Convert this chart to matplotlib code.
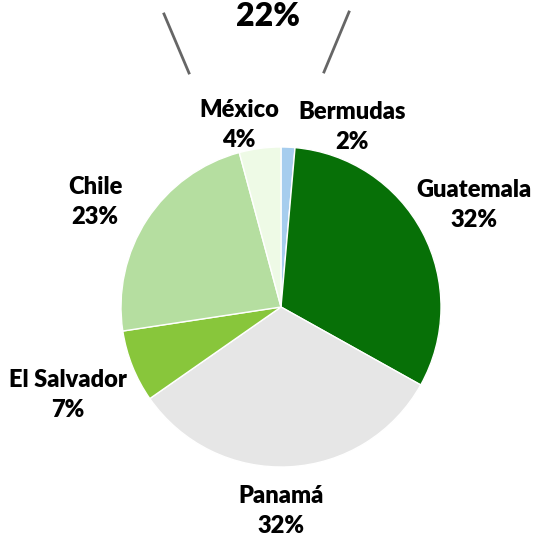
import matplotlib
matplotlib.use("Agg")
import matplotlib.pyplot as plt

# shares of each country, clockwise from the top
countries = ["Bermudas", "Guatemala", "Panamá", "El Salvador", "Chile", "México"]
shares = [1.4, 31.7, 32.2, 7.3, 23.2, 4.2]
share_labels = ["2%", "32%", "32%", "7%", "23%", "4%"]
colors = ["#a6cdee", "#077007", "#e6e6e6", "#88c63b", "#b5dea0", "#eefae6"]

# label centres in pixel coords (x, y from the top)
label_pos = [(352, 127), (474, 205), (281, 511), (68, 395), (95, 202), (239, 125)]

W, H = 534, 542
plt.rcParams["font.family"] = ["Lato", "DejaVu Sans"]

fig = plt.figure(figsize=(W / 100, H / 100), dpi=100)
ax = fig.add_axes([0, 0, 1, 1])

ax.pie(shares, colors=colors, startangle=90, counterclock=False,
       center=(281, H - 307), radius=160,
       wedgeprops={"edgecolor": "white", "linewidth": 1})
# pie resets the limits, so set them afterwards
ax.set_xlim(0, W)
ax.set_ylim(0, H)
ax.set_aspect("equal")
ax.axis("off")

for name, pct, (x, y) in zip(countries, share_labels, label_pos):
    ax.text(x, H - y, name + "\n" + pct, ha="center", va="center",
            fontsize=17, fontweight="heavy", linespacing=1.45)

# piece of the neighbouring chart cut off at the top
ax.text(268, H - 16, "22%", ha="center", va="center", fontsize=23, fontweight="heavy")
ax.plot([164, 189], [H - 14, H - 73], color="#666666", lw=2)
ax.plot([349, 324], [H - 12, H - 72], color="#666666", lw=2)

fig.savefig("out.png", dpi=100)
